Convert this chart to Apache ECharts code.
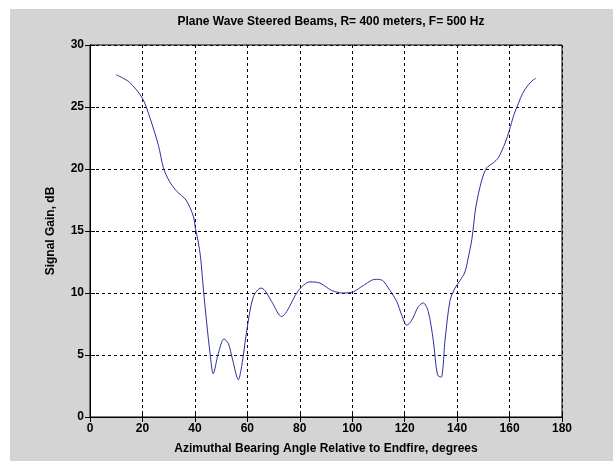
<!DOCTYPE html>
<html>
<head>
<meta charset="utf-8">
<script src="https://cdn.jsdelivr.net/npm/echarts@6/dist/echarts.min.js"></script>
<style>
  html, body { margin: 0; padding: 0; background: #ffffff; }
  #chart { width: 613px; height: 461px; }
</style>
</head>
<body>
<div id="chart"></div>
<script>
// Steering angle (degrees relative to endfire)
const angles = [10, 15, 20, 22.9, 26.1, 28, 30.3, 33.1, 36.6, 39.4, 40.2, 41.2, 42.2, 43.2, 44.5, 45.8,
  47, 48.9, 51.1, 52.8, 54.4, 56.6, 57.6, 58.5, 59.8, 62.3, 65.2, 66.7, 69.3, 73.1, 75, 79.5,
  83.9, 87.7, 92.2, 96.6, 100.4, 104.2, 108.7, 111.2, 114.4, 117, 118.9, 120.8, 122.7, 125.2,
  127.1, 129, 130.9, 132.5, 133.9, 135.4, 137.3, 139.2, 141.1, 143, 144.3, 145.6, 147.2, 149.4,
  151.3, 153.8, 155.7, 158.3, 159.9, 161.7, 163.4, 165, 167.2, 169.1, 170];
// Signal gain at each steering angle (dB)
const gains = [27.6, 27.0, 25.7, 24.1, 21.9, 20.1, 19.0, 18.2, 17.5, 16.2, 15.2, 14.2, 12.8, 10.4, 7.6, 5.1,
  3.5, 5.1, 6.3, 5.9, 4.6, 3.0, 3.8, 5.0, 7.0, 9.7, 10.4, 10.2, 9.3, 8.1, 8.5, 10.2,
  10.9, 10.8, 10.2, 10.0, 10.1, 10.6, 11.1, 11.05, 10.2, 9.3, 8.2, 7.4, 7.8, 8.9,
  9.2, 8.5, 6.2, 3.4, 3.2, 6.2, 9.4, 10.4, 11.0, 11.7, 12.9, 14.3, 17.0, 19.1,
  20.1, 20.5, 20.9, 22.1, 23.1, 24.4, 25.3, 26.1, 26.8, 27.2, 27.3];
const xTicks = [0, 20, 40, 60, 80, 100, 120, 140, 160, 180];
const yTicks = [0, 5, 10, 15, 20, 25, 30];

const FONT = 'Liberation Sans, Arial, sans-serif';
const chart = echarts.init(document.getElementById('chart'), null, { renderer: 'canvas' });

const tickStyle = { show: true, inside: true, length: 5, lineStyle: { color: '#000', width: 1 } };
const gridDash = { show: true, lineStyle: { color: '#000', width: 1, type: [3, 3] } };
const labelFont = { fontFamily: FONT, fontSize: 12, fontWeight: 'bold', color: '#000' };

chart.setOption({
  animation: false,
  backgroundColor: '#ffffff',
  graphic: [{
    type: 'rect', z: -10, silent: true,
    shape: { x: 10, y: 9, width: 603, height: 452 },
    style: { fill: '#d4d4d4' }
  }],
  title: {
    text: 'Plane Wave Steered Beams, R= 400 meters, F= 500 Hz',
    left: 326, top: 11, textAlign: 'center',
    textStyle: labelFont
  },
  grid: {
    left: 90, top: 45, width: 472, height: 372,
    show: true, backgroundColor: '#ffffff', borderColor: '#000', borderWidth: 1
  },
  xAxis: [{
    type: 'value', min: xTicks[0], max: xTicks[xTicks.length - 1], interval: 20,
    name: 'Azimuthal Bearing Angle Relative to Endfire, degrees',
    nameLocation: 'middle', nameGap: 26,
    nameTextStyle: labelFont,
    axisLine: { show: true, lineStyle: { color: '#000' } },
    axisTick: tickStyle,
    axisLabel: Object.assign({ margin: 6 }, labelFont),
    splitLine: gridDash
  }, {
    type: 'value', position: 'top', min: xTicks[0], max: xTicks[xTicks.length - 1], interval: 20,
    axisLine: { show: true, lineStyle: { color: '#000' } },
    axisTick: tickStyle, axisLabel: { show: false }, splitLine: { show: false }
  }],
  yAxis: [{
    type: 'value', min: yTicks[0], max: yTicks[yTicks.length - 1], interval: 5,
    name: 'Signal Gain, dB', nameLocation: 'middle', nameGap: 33,
    nameTextStyle: labelFont,
    axisLine: { show: true, lineStyle: { color: '#000' } },
    axisTick: tickStyle,
    axisLabel: Object.assign({ margin: 6 }, labelFont),
    splitLine: gridDash
  }, {
    type: 'value', position: 'right', min: yTicks[0], max: yTicks[yTicks.length - 1], interval: 5,
    axisLine: { show: true, lineStyle: { color: '#000' } },
    axisTick: tickStyle, axisLabel: { show: false }, splitLine: { show: false }
  }],
  series: [{
    type: 'line',
    data: angles.map((a, i) => [a, gains[i]]),
    showSymbol: false,
    smooth: 0.3,
    lineStyle: { color: '#2e2e9e', width: 1 },
    z: 5
  }]
});
</script>
</body>
</html>
